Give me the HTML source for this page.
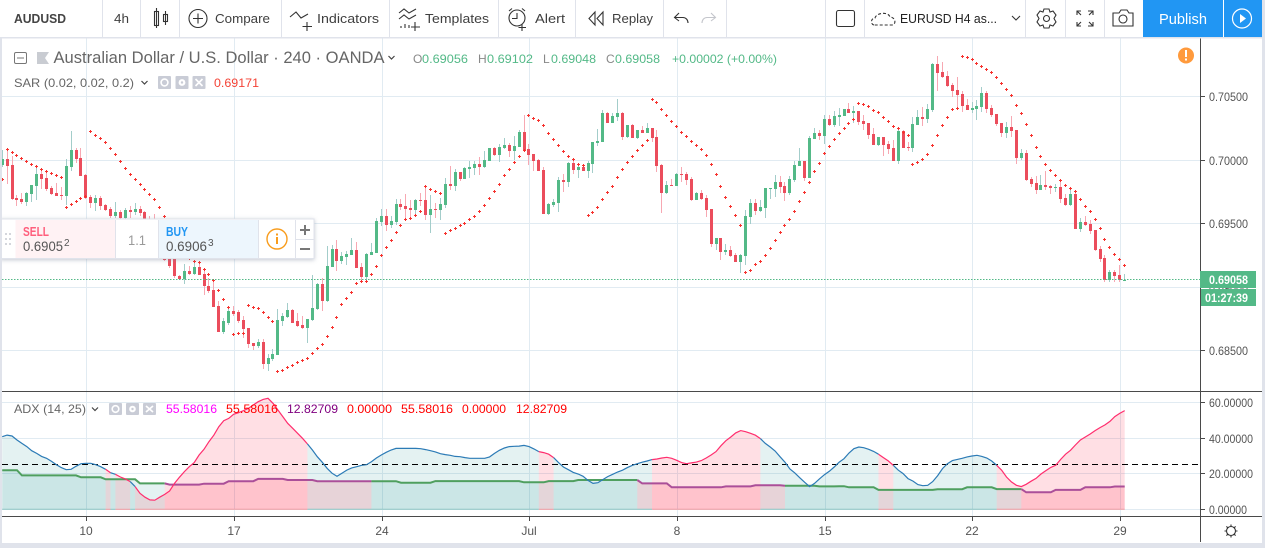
<!DOCTYPE html>
<html lang="en">
<head>
<meta charset="utf-8">
<title>AUDUSD chart</title>
<style>
html,body{margin:0;padding:0;background:#fff;width:1265px;height:548px;overflow:hidden}
svg{display:block;font-family:"Liberation Sans",Arial,sans-serif}
text{white-space:pre}
.tb{font-size:13px;fill:#3f3f3f}
.ic{fill:none;stroke:#333;stroke-width:1.1}
.lg{font-size:12px}
.sep{stroke:#e0e3eb;stroke-width:1}
</style>
</head>
<body>
<svg id="root" xmlns="http://www.w3.org/2000/svg" width="1265" height="548" viewBox="0 0 1265 548">
  <defs>
    <clipPath id="plot-clip"><rect x="2" y="38" width="1198" height="353"/></clipPath>
    <filter id="panel-shadow" x="-5%" y="-20%" width="110%" height="150%"><feDropShadow dx="0" dy="1" stdDeviation="2" flood-color="#7a8599" flood-opacity="0.45"/></filter>
  </defs>
  <rect x="0" y="0" width="1265" height="548" fill="#ffffff"/>

  <g id="grid"></g>
  <g id="adx-pane"></g>
  <g id="candles" clip-path="url(#plot-clip)"></g>
  <g id="sar" clip-path="url(#plot-clip)"></g>
  <g id="price-line"></g>

  <!-- chart frame -->
  <rect x="2" y="391" width="1260" height="1" fill="#4a4a4a"/>
  <rect x="2" y="516" width="1198" height="1" fill="#4a4a4a"/>
  <rect x="1200" y="516" width="62" height="1" fill="#4a4a4a"/>
  <rect x="1200" y="38" width="1" height="504" fill="#4a4a4a"/>
  <g id="axes"></g>

  <!-- last price labels -->
  <g>
    <rect x="1200" y="271" width="56" height="17" fill="#53b987"/>
    <text x="1209" y="284" font-size="12" font-weight="bold" fill="#fff" textLength="39" lengthAdjust="spacingAndGlyphs">0.69058</text>
  </g>
  <g>
    <rect x="1201" y="289" width="55" height="17" fill="#53b987"/>
    <text x="1205" y="302" font-size="12" font-weight="bold" fill="#fff" textLength="43" lengthAdjust="spacingAndGlyphs">01:27:39</text>
  </g>

  <!-- price legend -->
  <g>
    <g>
      <rect x="14.5" y="52.5" width="12" height="11" rx="1.5" fill="#fff" stroke="#777"/>
      <line x1="17" y1="58" x2="24" y2="58" stroke="#777"/>
    </g>
    <path d="M37 52H49L45 58L49 64H37Z" fill="#c9ccd2"/>
    <text x="53.5" y="63" font-size="17" fill="#666" textLength="331" lengthAdjust="spacingAndGlyphs">Australian Dollar / U.S. Dollar · 240 · OANDA</text>
    <path d="M388.5 56L391.5 59L394.5 56" fill="none" stroke="#444" stroke-width="1.2"/>
    <text x="413" y="63" class="lg" fill="#888">O</text>
    <text x="422" y="63" class="lg" fill="#53b987" textLength="46" lengthAdjust="spacingAndGlyphs">0.69056</text>
    <text x="478" y="63" class="lg" fill="#888">H</text>
    <text x="487" y="63" class="lg" fill="#53b987" textLength="46" lengthAdjust="spacingAndGlyphs">0.69102</text>
    <text x="543" y="63" class="lg" fill="#888">L</text>
    <text x="551" y="63" class="lg" fill="#53b987" textLength="45" lengthAdjust="spacingAndGlyphs">0.69048</text>
    <text x="606" y="63" class="lg" fill="#888">C</text>
    <text x="615" y="63" class="lg" fill="#53b987" textLength="45" lengthAdjust="spacingAndGlyphs">0.69058</text>
    <text x="672" y="63" class="lg" fill="#53b987" textLength="105" lengthAdjust="spacingAndGlyphs">+0.00002 (+0.00%)</text>
  </g>

  <!-- SAR legend -->
  <g>
    <text x="14" y="87" class="lg" fill="#666" textLength="120" lengthAdjust="spacingAndGlyphs">SAR (0.02, 0.02, 0.2)</text>
    <path d="M141.5 81L144.5 84L147.5 81" fill="none" stroke="#444" stroke-width="1.2"/>
    <g><rect x="158" y="76" width="13" height="13" rx="1" fill="#c9ccd6"/><circle cx="164.5" cy="82.5" r="3.4" fill="none" stroke="#fff" stroke-width="1.6"/></g>
    <g><rect x="175.5" y="76" width="13" height="13" rx="1" fill="#c9ccd6"/><circle cx="182" cy="82.5" r="3.4" fill="#fff"/><circle cx="182" cy="82.5" r="1.2" fill="#c9ccd6"/></g>
    <g><rect x="192.5" y="76" width="13" height="13" rx="1" fill="#c9ccd6"/><path d="M195.5 79L202.5 86M202.5 79L195.5 86" stroke="#fff" stroke-width="1.7"/></g>
    <text x="214" y="87" class="lg" fill="#f44336" textLength="45" lengthAdjust="spacingAndGlyphs">0.69171</text>
  </g>

  <g>
    <circle cx="1186" cy="55.5" r="8" fill="#ff9a3c"/>
    <rect x="1185" y="50" width="2" height="7" fill="#fff"/><rect x="1185" y="58.5" width="2" height="2" fill="#fff"/>
  </g>

  <!-- ADX legend -->
  <g>
    <text x="14" y="413" class="lg" fill="#666" textLength="72" lengthAdjust="spacingAndGlyphs">ADX (14, 25)</text>
    <path d="M92 407.5L95 410.5L98 407.5" fill="none" stroke="#444" stroke-width="1.2"/>
    <g><rect x="109" y="403" width="13" height="12" rx="1" fill="#c9ccd6"/><circle cx="115.5" cy="409" r="3.3" fill="none" stroke="#fff" stroke-width="1.6"/></g>
    <g><rect x="126" y="403" width="13" height="12" rx="1" fill="#c9ccd6"/><circle cx="132.5" cy="409" r="3.3" fill="#fff"/><circle cx="132.5" cy="409" r="1.2" fill="#c9ccd6"/></g>
    <g><rect x="143" y="403" width="13" height="12" rx="1" fill="#c9ccd6"/><path d="M146 406L153 412M153 406L146 412" stroke="#fff" stroke-width="1.7"/></g>
    <text x="166" y="413" class="lg" fill="#ff00ff" textLength="51" lengthAdjust="spacingAndGlyphs">55.58016</text>
    <text x="226" y="413" class="lg" fill="#ff0000" textLength="52" lengthAdjust="spacingAndGlyphs">55.58016</text>
    <text x="287" y="413" class="lg" fill="#800080" textLength="51" lengthAdjust="spacingAndGlyphs">12.82709</text>
    <text x="347" y="413" class="lg" fill="#ff0000" textLength="45" lengthAdjust="spacingAndGlyphs">0.00000</text>
    <text x="401" y="413" class="lg" fill="#ff0000" textLength="52" lengthAdjust="spacingAndGlyphs">55.58016</text>
    <text x="462" y="413" class="lg" fill="#ff0000" textLength="44" lengthAdjust="spacingAndGlyphs">0.00000</text>
    <text x="516" y="413" class="lg" fill="#ff0000" textLength="51" lengthAdjust="spacingAndGlyphs">12.82709</text>
  </g>

  <!-- Buy / sell panel -->
  <g>
    <rect x="0" y="219" width="314" height="39.5" fill="#fff" stroke="#e0e3eb" filter="url(#panel-shadow)"/>
    <g fill="#d4d6dc">
      <rect x="5" y="233" width="2" height="2"/><rect x="9" y="233" width="2" height="2"/>
      <rect x="5" y="238" width="2" height="2"/><rect x="9" y="238" width="2" height="2"/>
      <rect x="5" y="243" width="2" height="2"/><rect x="9" y="243" width="2" height="2"/>
    </g>
    <g>
      <rect x="15.5" y="220" width="100" height="38" fill="#fff2f4"/>
      <text x="23" y="236" font-size="12.5" font-weight="bold" fill="#ff5e7c" textLength="26" lengthAdjust="spacingAndGlyphs">SELL</text>
      <text x="23" y="251" font-size="14" fill="#555" textLength="40" lengthAdjust="spacingAndGlyphs">0.6905</text>
      <text x="64" y="246" font-size="10" fill="#555">2</text>
    </g>
    <text x="128" y="245" font-size="14" fill="#9a9a9a" textLength="18" lengthAdjust="spacingAndGlyphs">1.1</text>
    <g>
      <rect x="158.5" y="220" width="100" height="38" fill="#edf6fd"/>
      <text x="166" y="236" font-size="12.5" font-weight="bold" fill="#2196f3" textLength="22" lengthAdjust="spacingAndGlyphs">BUY</text>
      <text x="166" y="251" font-size="14" fill="#555" textLength="41" lengthAdjust="spacingAndGlyphs">0.6906</text>
      <text x="208" y="246" font-size="10" fill="#555">3</text>
    </g>
    <line class="sep" x1="115.5" y1="220" x2="115.5" y2="258"/>
    <line class="sep" x1="158.5" y1="220" x2="158.5" y2="258"/>
    <line class="sep" x1="258.5" y1="220" x2="258.5" y2="258"/>
    <line class="sep" x1="295.5" y1="220" x2="295.5" y2="258"/>
    <line class="sep" x1="296" y1="239.5" x2="314" y2="239.5"/>
    <g>
      <circle cx="277" cy="239" r="10" fill="#fff" stroke="#f89c1c" stroke-width="1.4"/>
      <rect x="276" y="237" width="2" height="7" fill="#f89c1c"/><rect x="276" y="233.5" width="2" height="2" fill="#f89c1c"/>
    </g>
    <path d="M305 225V235M300 230H310" stroke="#777" stroke-width="2"/>
    <path d="M300 249H310" stroke="#777" stroke-width="2"/>
  </g>

  <!-- settings icon bottom right -->
  <g>
    <circle cx="1231" cy="531" r="4.5" fill="none" stroke="#333" stroke-width="1.1"/>
    <path d="M1231 524.5V526.5M1231 535.5V537.5M1224.5 531H1226.5M1235.5 531H1237.5M1226.4 526.4L1227.8 527.8M1234.2 534.2L1235.6 535.6M1235.6 526.4L1234.2 527.8M1227.8 534.2L1226.4 535.6" stroke="#333" stroke-width="1.1"/>
  </g>

  <!-- page strips -->
  <rect x="0" y="37" width="2" height="511" fill="#e0e3eb"/>
  <rect x="1262" y="37" width="3" height="511" fill="#e0e3eb"/>
  <rect x="0" y="543" width="1265" height="5" fill="#e0e3eb"/>

  <!-- toolbar -->
  <g>
    <rect x="0" y="0" width="1265" height="37" fill="#fff"/>
    <rect x="0" y="37" width="1265" height="1.5" fill="#e0e3eb"/>
    <line class="sep" x1="102.5" y1="0" x2="102.5" y2="37"/>
    <line class="sep" x1="140.5" y1="0" x2="140.5" y2="37"/>
    <line class="sep" x1="179.5" y1="0" x2="179.5" y2="37"/>
    <line class="sep" x1="281.5" y1="0" x2="281.5" y2="37"/>
    <line class="sep" x1="389.5" y1="0" x2="389.5" y2="37"/>
    <line class="sep" x1="498.5" y1="0" x2="498.5" y2="37"/>
    <line class="sep" x1="575.5" y1="0" x2="575.5" y2="37"/>
    <line class="sep" x1="663.5" y1="0" x2="663.5" y2="37"/>
    <line class="sep" x1="726.5" y1="0" x2="726.5" y2="37"/>
    <line class="sep" x1="825.5" y1="0" x2="825.5" y2="37"/>
    <line class="sep" x1="864.5" y1="0" x2="864.5" y2="37"/>
    <line class="sep" x1="1025.5" y1="0" x2="1025.5" y2="37"/>
    <line class="sep" x1="1065.5" y1="0" x2="1065.5" y2="37"/>
    <line class="sep" x1="1104.5" y1="0" x2="1104.5" y2="37"/>

    <text x="14" y="23" font-size="13" font-weight="bold" fill="#444" textLength="52" lengthAdjust="spacingAndGlyphs">AUDUSD</text>
    <text x="114" y="23" class="tb" textLength="15" lengthAdjust="spacingAndGlyphs">4h</text>
    <g class="ic">
      <rect x="154.5" y="11.5" width="4" height="14"/><line x1="156.5" y1="8" x2="156.5" y2="28"/>
      <rect x="163.5" y="14.5" width="4" height="7"/><line x1="165.5" y1="11" x2="165.5" y2="25"/>
    </g>
    <g>
      <circle cx="198" cy="18.5" r="9" class="ic"/><path d="M198 13.5V23.5M193 18.5H203" class="ic"/>
      <text x="215" y="23" class="tb" textLength="55" lengthAdjust="spacingAndGlyphs">Compare</text>
    </g>
    <g>
      <path d="M290 17L296 12L301 18L308 14M307 22V31M302.500 26.500H312" class="ic"/>
      <text x="317" y="23" class="tb" textLength="62" lengthAdjust="spacingAndGlyphs">Indicators</text>
    </g>
    <g>
      <path d="M399 13L404 9L409 13L416 9M399 19L404 15L409 19L416 15M401 28V26M405 28V24M409 28V25M415 22V31M411 27H420" class="ic"/>
      <text x="425" y="23" class="tb" textLength="64" lengthAdjust="spacingAndGlyphs">Templates</text>
    </g>
    <g>
      <circle cx="517" cy="18" r="8" class="ic"/><path d="M517 13V18.500H512M509 11L512 8.500M525 11L522 8.500M522 24V31M518.500 27.500H526" class="ic"/>
      <text x="535" y="23" class="tb" textLength="30" lengthAdjust="spacingAndGlyphs">Alert</text>
    </g>
    <g>
      <path d="M595 12L589 18.500L595 25ZM603 12L597 18.500L603 25Z" class="ic"/>
      <text x="612" y="23" class="tb" textLength="41" lengthAdjust="spacingAndGlyphs">Replay</text>
    </g>
    <path d="M679 13L674.500 17.500L679 21M675 17.500H683C686 17.500 688 20 688 23" class="ic"/>
    <path d="M711 13L715.500 17.500L711 21M715 17.500H707C704 17.500 702 20 702 23" fill="none" stroke="#c4c6cc" stroke-width="1.1"/>
    <rect x="836.500" y="10.500" width="18" height="16" rx="2" class="ic"/>
    <g>
      <path d="M874 25C870 24 871 18 875 18C876 13 888 11 890 17C895 17 897 24 892 25H874" fill="none" stroke="#333" stroke-width="1.1" stroke-dasharray="3 2"/>
      <text x="900" y="23" font-size="13" fill="#222" textLength="97" lengthAdjust="spacingAndGlyphs">EURUSD H4 as...</text>
      <path d="M1012 16L1016 20L1020 16" class="ic"/>
    </g>
    <g>
      <circle cx="1046.500" cy="18.500" r="3" class="ic"/>
      <path d="M1044 9H1049L1050 12L1053 11L1056 15L1054 18.500L1056 22L1053 26L1050 25L1049 28H1044L1043 25L1040 26L1037 22L1039 18.500L1037 15L1040 11L1043 12Z" class="ic"/>
    </g>
    <path d="M1077 15V11H1081M1088 11H1093V15M1093 22V26H1088M1081 26H1077V22M1077 11L1081 15M1093 11L1089 15M1093 26L1089 22M1077 26L1081 22" class="ic"/>
    <g>
      <path d="M1115 13H1119L1121 10H1127L1129 13H1133V26H1113V13Z" class="ic"/>
      <circle cx="1123" cy="19" r="4" class="ic"/>
    </g>
    <g>
      <rect x="1143" y="0" width="80" height="37" fill="#2196f3"/>
      <text x="1159" y="24" font-size="15" fill="#fff" textLength="48" lengthAdjust="spacingAndGlyphs">Publish</text>
    </g>
    <g>
      <rect x="1224" y="0" width="38" height="37" fill="#2196f3"/>
      <circle cx="1242" cy="18.500" r="9.500" fill="none" stroke="#fff" stroke-width="1.2"/>
      <path d="M1240 14V23L1246 18.500Z" fill="#fff"/>
    </g>
    <rect x="1262" y="0" width="3" height="37" fill="#e0e3eb"/>
  </g>
</svg>
<script>
// ---- price series (one value per 4h bar) ----
const opens=[.69963,.70011,.69963,.69704,.69696,.69672,.69735,.69798,.69893,.69861,
.69783,.69743,.69727,.69720,.69948,.70082,.70019,.69885,.69712,.69664,
.69704,.69649,.69617,.69562,.69594,.69546,.69609,.69594,.69617,.69594,
.69499,.69431,.69352,.69289,.69221,.69221,.69090,.69066,.69129,.69106,
.69161,.69106,.69011,.68980,.68854,.68649,.68720,.68807,.68799,.68736,
.68673,.68555,.68531,.68563,.68390,.68429,.68460,.68728,.68767,.68815,
.68728,.68704,.68673,.68736,.68830,.69027,.68891,.69161,.69303,.69207,
.69239,.69255,.69294,.69160,.69082,.69255,.69270,.69514,.69562,.69491,
.69514,.69656,.69640,.69624,.69609,.69687,.69687,.69569,.69617,.69609,
.69648,.69813,.69798,.69908,.69853,.69931,.69939,.69971,.69947,.69992,
.70097,.70042,.70097,.70120,.70073,.70104,.70223,.70089,.70049,.70002,
.69923,.69577,.69648,.69664,.69845,.69829,.69979,.69923,.69947,.69916,
.69971,.70136,.70144,.70372,.70293,.70341,.70372,.70183,.70278,.70175,
.70238,.70215,.70254,.70183,.69963,.69742,.69806,.69798,.69892,.69892,
.69853,.69688,.69743,.69703,.69617,.69341,.69389,.69278,.69294,.69255,
.69200,.69247,.69554,.69664,.69601,.69625,.69777,.69774,.69829,.69798,
.69743,.69845,.69955,.69995,.69861,.70168,.70215,.70191,.70325,.70278,
.70341,.70349,.70404,.70372,.70388,.70309,.70294,.70207,.70120,.70183,
.70128,.70097,.69995,.70231,.70105,.70097,.70278,.70341,.70325,.70396,
.70758,.70695,.70663,.70593,.70553,.70522,.70435,.70396,.70404,.70419,
.70530,.70412,.70364,.70294,.70215,.70262,.70238,.70018,.70058,.69853,
.69821,.69766,.69806,.69798,.69785,.69790,.69703,.69648,.69735,.69459,
.69515,.69499,.69452,.69302,.69231,.69058,.69121,.69097,.69056];
const highs=[.70082,.70087,.70037,.69727,.69741,.69751,.69806,.69956,.69937,.69924,
.69798,.69824,.69788,.70008,.70231,.70095,.70095,.69893,.69727,.69727,
.69714,.69657,.69630,.69672,.69609,.69623,.69641,.69664,.69641,.69596,
.69557,.69578,.69372,.69308,.69242,.69242,.69095,.69184,.69164,.69203,
.69190,.69137,.69072,.69045,.68888,.68757,.68849,.68849,.68815,.68770,
.68673,.68560,.68586,.68586,.68468,.68508,.68828,.68796,.68870,.68823,
.68796,.68770,.68749,.69098,.69032,.69072,.69321,.69329,.69368,.69276,
.69286,.69388,.69357,.69192,.69270,.69349,.69546,.69617,.69617,.69562,
.69695,.69695,.69735,.69687,.69695,.69742,.69792,.69727,.69664,.69703,
.69861,.69955,.69931,.69908,.69944,.69997,.69997,.70026,.70073,.70097,
.70107,.70128,.70175,.70133,.70191,.70238,.70356,.70128,.70049,.70010,
.69944,.69664,.69695,.69866,.69892,.69986,.70015,.69955,.69960,.69994,
.70144,.70246,.70396,.70380,.70372,.70482,.70380,.70278,.70285,.70238,
.70270,.70293,.70254,.70238,.69971,.69837,.69853,.69897,.69947,.69905,
.69869,.69751,.69766,.69727,.69617,.69389,.69389,.69341,.69326,.69268,
.69263,.69609,.69696,.69696,.69688,.69782,.69782,.69884,.69876,.69829,
.69876,.69995,.70097,.69995,.70191,.70254,.70238,.70357,.70357,.70388,
.70412,.70404,.70451,.70427,.70388,.70357,.70294,.70254,.70183,.70183,
.70152,.70160,.70238,.70238,.70144,.70341,.70396,.70420,.70443,.70763,
.70821,.70774,.70703,.70608,.70656,.70545,.70482,.70459,.70475,.70577,
.70545,.70435,.70364,.70294,.70301,.70349,.70238,.70089,.70081,.69869,
.69876,.69884,.69916,.69806,.69814,.69845,.69735,.69782,.69766,.69546,
.69562,.69530,.69452,.69326,.69255,.69137,.69137,.69176,.69102];
const lows=[.69950,.69814,.69688,.69636,.69654,.69641,.69667,.69688,.69775,.69759,
.69727,.69714,.69688,.69646,.69916,.69977,.69872,.69696,.69623,.69602,
.69609,.69602,.69544,.69544,.69536,.69536,.69544,.69570,.69557,.69478,
.69413,.69334,.69268,.69203,.69150,.69072,.69053,.69027,.69098,.69098,
.69093,.68933,.68954,.68843,.68647,.68626,.68704,.68770,.68718,.68600,
.68521,.68502,.68521,.68350,.68337,.68416,.68460,.68691,.68757,.68718,
.68686,.68670,.68560,.68731,.68822,.68809,.68885,.69156,.69129,.69184,
.69176,.69250,.69147,.69045,.69053,.69250,.69268,.69483,.69443,.69467,
.69491,.69609,.69535,.69530,.69562,.69640,.69525,.69428,.69543,.69530,
.69624,.69766,.69758,.69837,.69850,.69858,.69884,.69884,.69939,.69992,
.70034,.69986,.70086,.70026,.70002,.70102,.70065,.69963,.69916,.69913,
.69577,.69569,.69627,.69593,.69750,.69790,.69892,.69861,.69913,.69861,
.69900,.70112,.70141,.70291,.70291,.70309,.70160,.70175,.70173,.70170,
.70212,.70212,.70144,.69908,.69585,.69735,.69793,.69795,.69829,.69806,
.69680,.69685,.69690,.69554,.69318,.69294,.69216,.69255,.69236,.69197,
.69113,.69176,.69499,.69570,.69593,.69546,.69696,.69711,.69743,.69680,
.69722,.69829,.69953,.69837,.69858,.70165,.70160,.70128,.70270,.70265,
.70270,.70346,.70370,.70294,.70278,.70238,.70168,.70118,.70113,.70034,
.70050,.69995,.69971,.70094,.70073,.70065,.70275,.70270,.70294,.70380,
.70545,.70648,.70580,.70498,.70396,.70380,.70393,.70370,.70317,.70380,
.70370,.70343,.70273,.70181,.70176,.70183,.69971,.70002,.69837,.69790,
.69735,.69764,.69766,.69735,.69751,.69664,.69640,.69640,.69459,.69436,
.69483,.69420,.69286,.69200,.69042,.69042,.69042,.69042,.69048];
const closes=[.70011,.69956,.69696,.69688,.69672,.69743,.69806,.69893,.69853,.69775,
.69735,.69720,.69720,.69956,.70082,.70011,.69877,.69704,.69664,.69704,
.69641,.69609,.69562,.69594,.69546,.69609,.69594,.69617,.69586,.69491,
.69426,.69347,.69282,.69216,.69163,.69085,.69066,.69129,.69106,.69161,
.69098,.69004,.68972,.68846,.68649,.68728,.68807,.68791,.68728,.68665,
.68547,.68531,.68563,.68390,.68437,.68468,.68736,.68775,.68815,.68720,
.68694,.68673,.68744,.68838,.69027,.68893,.69169,.69303,.69208,.69247,
.69262,.69294,.69152,.69082,.69262,.69278,.69522,.69562,.69491,.69522,
.69656,.69632,.69617,.69609,.69687,.69682,.69569,.69617,.69611,.69656,
.69813,.69798,.69908,.69853,.69939,.69947,.69971,.69947,.70002,.70097,
.70042,.70104,.70120,.70073,.70112,.70223,.70073,.70042,.69994,.69916,
.69577,.69656,.69672,.69845,.69829,.69979,.69923,.69947,.69916,.69979,
.70144,.70152,.70372,.70293,.70348,.70372,.70183,.70278,.70175,.70238,
.70215,.70254,.70175,.69955,.69742,.69805,.69800,.69892,.69887,.69845,
.69688,.69743,.69696,.69609,.69341,.69389,.69278,.69294,.69247,.69200,
.69255,.69562,.69664,.69601,.69633,.69782,.69782,.69829,.69790,.69743,
.69853,.69963,.69995,.69861,.70176,.70215,.70191,.70325,.70278,.70349,
.70357,.70404,.70372,.70388,.70301,.70286,.70199,.70120,.70183,.70120,
.70089,.69995,.70231,.70097,.70100,.70286,.70341,.70325,.70404,.70758,
.70687,.70656,.70585,.70545,.70514,.70427,.70396,.70412,.70427,.70530,
.70404,.70357,.70286,.70215,.70262,.70231,.70018,.70058,.69845,.69814,
.69766,.69806,.69790,.69782,.69790,.69696,.69648,.69735,.69459,.69515,
.69491,.69444,.69294,.69223,.69058,.69121,.69090,.69058,.69058];
const sarValues=[.69851,.70082,.70063,.70040,.70016,.69992,.69969,.69948,.69929,.69914,
.69898,.69882,.69866,.69630,.69651,.69678,.69701,.69714,.70228,.70197,
.70173,.70142,.70095,.70047,.69992,.69937,.69890,.69851,.69811,.69772,
.69733,.69688,.69630,.69557,.69478,.69373,.69308,.69263,.69221,.69200,
.69192,.69135,.69095,.69051,.68970,.68899,.68836,.68623,.68631,.68634,
.68851,.68836,.68828,.68796,.68757,.68725,.68332,.68340,.68364,.68382,
.68403,.68421,.68437,.68474,.68516,.68544,.68607,.68678,.68757,.68860,
.68910,.68960,.69024,.69040,.69045,.69095,.69165,.69252,.69315,.69370,
.69433,.69488,.69535,.69543,.69564,.69598,.69790,.69771,.69756,.69740,
.69425,.69449,.69464,.69488,.69504,.69535,.69559,.69598,.69645,.69700,
.69756,.69811,.69882,.69929,.69984,.70031,.70078,.70354,.70330,.70314,
.70275,.70212,.70165,.70118,.70070,.70031,.70007,.69968,.69960,.69567,
.69590,.69630,.69693,.69748,.69795,.69866,.69929,.69984,.70031,.70078,
.70118,.70157,.70480,.70456,.70401,.70354,.70307,.70267,.70220,.70189,
.70149,.70118,.70086,.70039,.69968,.69890,.69795,.69709,.69638,.69567,
.69488,.69111,.69134,.69174,.69205,.69252,.69300,.69370,.69433,.69488,
.69536,.69598,.69677,.69748,.69827,.69913,.69976,.70055,.70110,.70165,
.70212,.70252,.70291,.70322,.70448,.70440,.70425,.70393,.70378,.70338,
.70307,.70267,.70252,.70220,.70196,.69968,.69984,.70008,.70047,.70118,
.70196,.70275,.70338,.70401,.70409,.70818,.70810,.70795,.70763,.70740,
.70716,.70692,.70653,.70606,.70558,.70511,.70433,.70370,.70283,.70196,
.70102,.70031,.69968,.69921,.69882,.69842,.69803,.69779,.69756,.69693,
.69638,.69598,.69536,.69465,.69378,.69315,.69260,.69213,.69171];
const lastPrice=0.69058;
// ---- ADX pane series ----
const adxValues=[40.9,41.8,41.3,39.0,37.1,35.3,33.0,31.5,29.8,28.7,
27.0,25.1,23.5,22.3,22.5,24.2,25.7,25.9,25.9,25.1,
24.0,22.5,20.6,19.7,18.2,17.1,15.6,12.8,9.0,6.8,
5.3,5.1,6.8,8.4,10.3,14.6,18.0,21.2,24.0,26.3,
30.6,33.8,38.1,41.8,46.5,49.9,51.2,53.5,54.4,55.5,
56.8,58.7,60.6,61.9,62.5,59.7,55.9,52.2,48.4,45.6,
42.8,40.0,36.8,33.4,29.6,26.5,23.1,20.3,18.6,20.3,
22.1,23.3,24.0,24.8,25.1,26.8,28.9,30.6,32.1,33.4,
34.3,34.3,34.3,34.3,34.3,34.1,33.6,33.0,32.3,31.3,
30.8,30.4,29.8,29.6,29.1,28.7,28.7,28.7,28.7,29.5,
31.5,33.2,34.5,35.3,35.5,35.6,36.0,35.3,34.0,32.5,
31.9,31.0,29.1,26.3,23.8,22.3,20.8,19.9,18.6,16.3,
14.6,15.0,16.7,18.4,19.7,21.0,22.0,23.5,24.8,25.7,
26.5,27.2,28.0,28.3,28.9,29.3,28.7,27.6,26.3,25.7,
26.1,26.6,27.4,28.9,30.6,32.5,35.8,38.6,40.7,43.0,
44.3,43.7,42.8,41.7,39.8,37.1,35.1,32.8,29.6,26.5,
22.7,20.5,17.8,15.2,12.8,14.6,17.1,19.5,21.4,23.8,
26.5,28.5,31.7,34.1,35.1,34.7,33.8,32.6,31.0,29.1,
27.2,24.8,22.1,20.1,17.3,15.9,13.9,13.3,13.5,15.6,
18.9,22.9,25.7,27.4,28.1,28.7,29.5,30.0,30.4,29.8,
28.9,27.2,24.8,22.0,18.2,15.4,13.5,12.8,14.1,15.8,
17.4,19.9,21.8,23.6,24.8,28.1,31.0,33.2,36.2,39.0,
40.7,42.4,44.3,46.0,47.5,49.5,52.2,54.0,55.58];
const diValues=[22,22,22,22,19.1,19.1,19.1,19.1,19.1,19.1,
19.1,19.1,19.1,19.1,19.1,19.1,18,18,18,18,
18,16.9,16.9,16.9,16.9,16.9,16.9,16.9,14.6,14.6,
14.6,14.6,14.6,14.6,13.9,13.9,13.9,13.9,13.9,13.9,
13.9,14.4,14.4,14.4,14.4,14.4,15.8,15.8,15.8,15.8,
15.8,15.8,17.1,17.1,17.1,17.1,17.1,17.1,16.5,16.5,
16.5,16.5,16.5,16.5,15.8,15.8,15.8,15.8,15.8,15.8,
15.8,15.8,15.8,15.8,15.8,15.8,15.8,15.8,15.8,15.8,
15.8,15,15,15,15,15,15,15,15.9,15.9,
15.9,15.9,15.9,15.9,15.9,15.9,15.9,15.9,15.9,15.9,
15.9,15.9,15.9,15.9,15.9,15.9,15.2,15.2,15.2,15.2,
15.2,15.9,15.9,15.9,15.9,15.9,15.9,16.5,16.5,16.5,
16.5,16.5,16.5,16.5,16.5,16.5,16.5,16.5,16.5,16.5,
14.6,14.6,14.6,14.6,14.6,14.6,12.4,12.4,12.4,12.4,
12.4,12.4,12.4,12.4,12.4,12.4,12.4,12.9,12.9,12.9,
12.9,12.9,12.9,13.5,13.5,13.5,13.5,13.5,13.5,13.3,
13.3,13.3,13.3,13.3,13.3,13.3,12.9,12.9,12.9,12.9,
13,13,12.4,12.4,12.4,12.4,12.4,12.4,10.9,10.9,
10.9,10.9,10.9,10.9,10.9,10.9,10.9,10.9,10.9,10.9,
11.3,11.3,11.3,11.3,11.3,11.3,12.4,12.4,12.4,12.4,
12.4,12.4,11.4,11.4,11.4,11.4,11.4,11.4,9.6,9.6,
9.6,9.6,9.6,9.6,10.9,10.9,10.9,10.9,10.9,10.9,
12.4,12.4,12.4,12.4,12.4,12.4,12.83,12.83,12.83];
const adxThreshold=25;
// bar ranges [start,end) where each series is in its "pink" state
const adxPinkRanges=[[21,22],[23,26],[27,62],[109,112],[132,154],[178,181],[202,229]];
const diPinkRanges=[[33,75],[129,159],[207,229]];
// ---- axis labels ----
const priceTicks=[0.705,0.70,0.695,0.69,0.685];
const adxTicks=[60,40,20,0];
const timeTickBars=[17,47,77,107,137,167,197,227];
const timeTickLabels=['10','17','24','Jul','8','15','22','29'];

// ---- axis functions ----
const NS='http://www.w3.org/2000/svg';
function xBar(i){return 2.2+i*64/13;}
function yPrice(p){return 160.2+(0.7-p)*12680;}
function yAdx(v){return 509.3-1.776*v;}
function snap(v){return Math.floor(v)+0.5;}
function tickX(i){return Math.round(xBar(i)+0.3)+0.5;}
function mk(tag,parent,attrs){
  const e=document.createElementNS(NS,tag);
  for(const k in attrs){e.setAttribute(k,attrs[k]);}
  parent.appendChild(e);
  return e;
}
const grid=document.getElementById('grid');
const axes=document.getElementById('axes');
const candleLayer=document.getElementById('candles');
const sarLayer=document.getElementById('sar');
const adxLayer=document.getElementById('adx-pane');
const priceLineLayer=document.getElementById('price-line');
const GRID='#e1ebf2';

priceTicks.forEach(function(p){
  const y=snap(yPrice(p));
  const g=mk('line',grid,{x1:2,x2:1200,y1:y,y2:y,stroke:GRID});
  
  
  const t=mk('line',axes,{x1:1201,x2:1205,y1:y,y2:y,stroke:'#4a4a4a'});
  
  
  const l=mk('text',axes,{x:1209,y:y+4.5,'font-size':12,fill:'#555',textLength:39,lengthAdjust:'spacingAndGlyphs'});
  l.textContent=p.toFixed(5);
  
  
});
adxTicks.forEach(function(v){
  const y=snap(yAdx(v));
  const g=mk('line',grid,{x1:2,x2:1200,y1:y,y2:y,stroke:GRID});
  
  
  const t=mk('line',axes,{x1:1201,x2:1205,y1:y,y2:y,stroke:'#4a4a4a'});
  
  
  const s=v.toFixed(5);
  const l=mk('text',axes,{x:1209,y:y+4.5,'font-size':12,fill:'#555',textLength:s.length===8?44:38,lengthAdjust:'spacingAndGlyphs'});
  l.textContent=s;
  
  
});
timeTickBars.forEach(function(b,k){
  const x=tickX(b);
  const g=mk('line',grid,{x1:x,x2:x,y1:38,y2:516,stroke:GRID});
  
  
  const t=mk('line',axes,{x1:x,x2:x,y1:517,y2:521,stroke:'#4a4a4a'});
  
  
  const l=mk('text',axes,{x:x-0.5,y:535,'font-size':12,fill:'#555','text-anchor':'middle'});
  l.textContent=timeTickLabels[k];
  
  
});

// candles
closes.forEach(function(c,i){
  const o=opens[i];
  const up=c>=o;
  const px=Math.floor(xBar(i));
  const yH=Math.round(yPrice(highs[i]));
  const yL=Math.round(yPrice(lows[i]));
  const yT=Math.round(yPrice(Math.max(o,c)));
  const yB=Math.max(yT+1,Math.round(yPrice(Math.min(o,c))));
  const w=mk('rect',candleLayer,{x:px,y:yH,width:1,height:Math.max(1,yL-yH),fill:up?'#a3cdca':'#f7a8b2'});
  
  
  const b=mk('rect',candleLayer,{x:px-1,y:yT,width:3,height:yB-yT,fill:up?'#53b987':'#eb4d5c'});
  
  
});

// SAR
sarValues.forEach(function(v,i){
  const cx=Math.floor(xBar(i))+0.5;
  const cy=Math.floor(yPrice(v))+0.5;
  const d=mk('path',sarLayer,{d:'M'+(cx-1.5)+' '+cy+'H'+(cx+1.5)+'M'+cx+' '+(cy-1.5)+'V'+(cy+1.5),stroke:'#f6322e','stroke-width':1,fill:'none'});
  
  
});

// last price line
const lastY=snap(yPrice(lastPrice));
const plLine=mk('line',priceLineLayer,{x1:2,x2:1200,y1:lastY,y2:lastY,stroke:'#53b987','stroke-dasharray':'1.5 1.5'});



// ADX pane
function inRanges(i,ranges){
  return ranges.some(function(r){return i>=r[0]&&i<r[1];});
}
function runs(ranges,n){
  const out=[];
  let s=0;
  let st=inRanges(0,ranges);
  for(let i=1;i<n-1;i++){
    const cur=inRanges(i,ranges);
    if(cur!==st){out.push([s,i,st]);s=i;st=cur;}
  }
  out.push([s,n-1,st]);
  return out;
}
function linePts(vals,s,e){
  let d='';
  for(let i=s;i<=e;i++){d+=(i===s?'M':'L')+xBar(i).toFixed(1)+' '+yAdx(vals[i]).toFixed(1);}
  return d;
}
const y0=yAdx(0);
function drawArea(vals,ranges){
  runs(ranges,vals.length).forEach(function(r){
    const d=linePts(vals,r[0],r[1])+'L'+xBar(r[1]).toFixed(1)+' '+y0+'L'+xBar(r[0]).toFixed(1)+' '+y0+'Z';
    const a=mk('path',adxLayer,{d:d,fill:r[2]?'rgba(255,0,40,0.125)':'rgba(0,128,128,0.105)'});
    
    
  });
}
drawArea(adxValues,adxPinkRanges);
drawArea(diValues,diPinkRanges);
runs(adxPinkRanges,adxValues.length).forEach(function(r){
  const base=mk('line',adxLayer,{x1:xBar(r[0]),x2:xBar(r[1]),y1:y0,y2:y0,stroke:r[2]?'#f09a9f':'#8cc4c2'});
  
  
});
const thY=snap(yAdx(adxThreshold));
const th=mk('line',adxLayer,{x1:2,x2:1200,y1:thY,y2:thY,stroke:'#000','stroke-dasharray':'6 4'});


runs(diPinkRanges,diValues.length).forEach(function(r){
  const l=mk('path',adxLayer,{d:linePts(diValues,r[0],r[1]),fill:'none',stroke:r[2]?'#ab4f99':'#4f9f5f','stroke-width':2});
  
  
});
runs(adxPinkRanges,adxValues.length).forEach(function(r){
  const l=mk('path',adxLayer,{d:linePts(adxValues,r[0],r[1]),fill:'none',stroke:r[2]?'#ff2e6e':'#2c7bb6','stroke-width':1.2});
  
  
});
</script>
</body>
</html>
